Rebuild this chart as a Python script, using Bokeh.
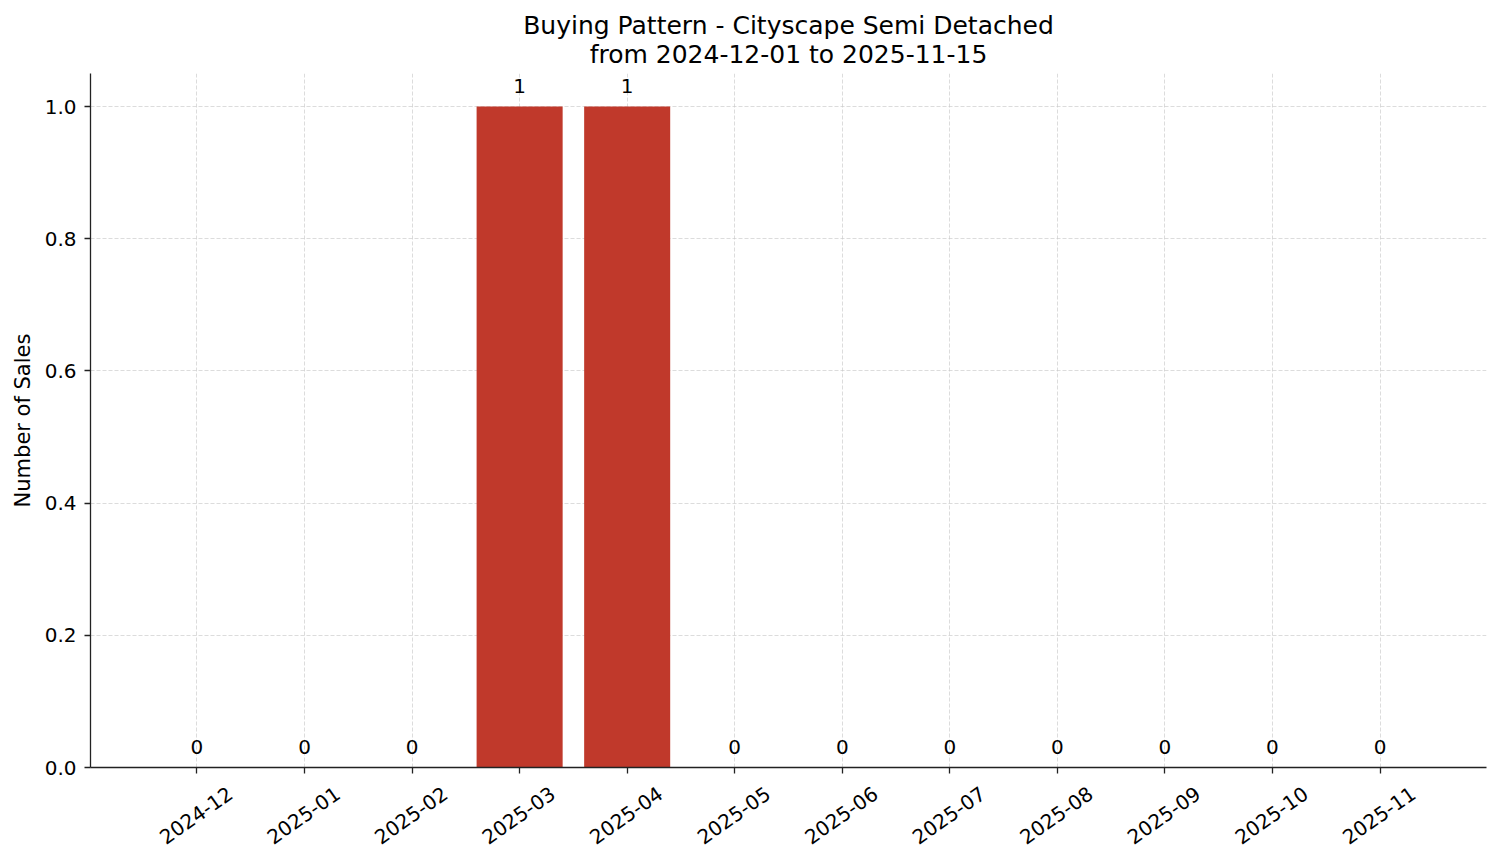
import math
from bokeh.plotting import figure
from bokeh.models import (ColumnDataSource, FixedTicker, Range1d, Title, NumeralTickFormatter,
                          LinearAxis, CustomLabelingPolicy)
from bokeh.core.properties import value
from bokeh.embed import file_html
from bokeh.resources import INLINE

months = ["2024-12", "2025-01", "2025-02", "2025-03", "2025-04", "2025-05",
          "2025-06", "2025-07", "2025-08", "2025-09", "2025-10", "2025-11"]
sales = [0, 0, 0, 1, 1, 0, 0, 0, 0, 0, 0, 0]
y_ticks = [0.0, 0.2, 0.4, 0.6, 0.8, 1.0]
title_lines = ["Buying Pattern - Cityscape Semi Detached", "from 2024-12-01 to 2025-11-15"]
y_label = "Number of Sales"

FONT = "DejaVu Sans"
BAR_COLOR = "#c0392b"
TICK_FS = "20px"
LABEL_SHIFT = 0.31  # rotated labels are right-anchored in Bokeh; shift so they sit centred

idx = list(range(len(months)))
src = ColumnDataSource(dict(x=idx, y=sales, lab=[str(v) for v in sales]))

p = figure(width=1495, height=857, output_backend="svg", toolbar_location=None,
           x_range=Range1d(-0.99, len(months) - 0.01), y_range=Range1d(0, 1.05),
           min_border_left=90, min_border_right=9, min_border_top=73, min_border_bottom=90)
p.outline_line_color = None
p.background_fill_color = "white"
p.border_fill_color = "white"

p.vbar(x="x", top="y", width=0.8, source=src, fill_color=BAR_COLOR, line_color=None)
p.text(x="x", y="y", text="lab", source=src, text_align="center", text_baseline="bottom",
       y_offset=-14, text_font=value(FONT), text_font_size=TICK_FS, text_color="black")

for ax in (p.xaxis[0], p.yaxis[0]):
    ax.axis_line_color = "#222222"
    ax.axis_line_width = 1.3
    ax.major_tick_line_color = "#222222"
    ax.major_tick_line_width = 1.3
    ax.major_tick_out = 6
    ax.major_tick_in = 0
    ax.minor_tick_line_color = None
    ax.major_label_text_font = FONT
    ax.major_label_text_font_size = TICK_FS
    ax.major_label_text_color = "black"

# bottom axis: line + tick marks only
p.xaxis[0].ticker = FixedTicker(ticks=idx)
p.xaxis[0].major_label_text_font_size = "0px"
p.xaxis[0].major_label_standoff = 0
p.xaxis[0].major_label_policy = CustomLabelingPolicy(code="return []")

# second bottom axis: the rotated month labels
label_ticks = [round(i + LABEL_SHIFT, 3) for i in idx]
lab_axis = LinearAxis(ticker=FixedTicker(ticks=label_ticks),
                      major_label_overrides={t: m for t, m in zip(label_ticks, months)},
                      axis_line_color=None, major_tick_line_color=None, minor_tick_line_color=None,
                      major_tick_out=0, major_tick_in=0, major_label_standoff=18,
                      major_label_orientation=math.radians(35),
                      major_label_text_font=FONT, major_label_text_font_size=TICK_FS,
                      major_label_text_color="black")
p.add_layout(lab_axis, "below")

p.yaxis.ticker = FixedTicker(ticks=y_ticks)
p.yaxis.formatter = NumeralTickFormatter(format="0.0")
p.yaxis.major_label_standoff = 8
p.yaxis.axis_label = y_label
p.yaxis.axis_label_standoff = 7
p.yaxis.axis_label_text_font = FONT
p.yaxis.axis_label_text_font_size = "21px"
p.yaxis.axis_label_text_font_style = "normal"
p.yaxis.axis_label_text_color = "black"

for g in (p.xgrid[0], p.ygrid[0]):
    g.grid_line_color = "#c8c8c8"
    g.grid_line_dash = "4 2"
    g.grid_line_width = 0.8
    g.grid_line_alpha = 0.8
p.xgrid[0].ticker = FixedTicker(ticks=idx)
p.ygrid[0].ticker = FixedTicker(ticks=y_ticks)

p.title = Title(text=title_lines[0], align="center", text_font=FONT, text_font_size="25px",
                text_font_style="normal", text_color="black", standoff=-14)
p.add_layout(Title(text=title_lines[1], align="center", text_font=FONT, text_font_size="25px",
                   text_font_style="normal", text_color="black", standoff=10), "above")

open("out.html", "w").write(file_html(p, INLINE))
